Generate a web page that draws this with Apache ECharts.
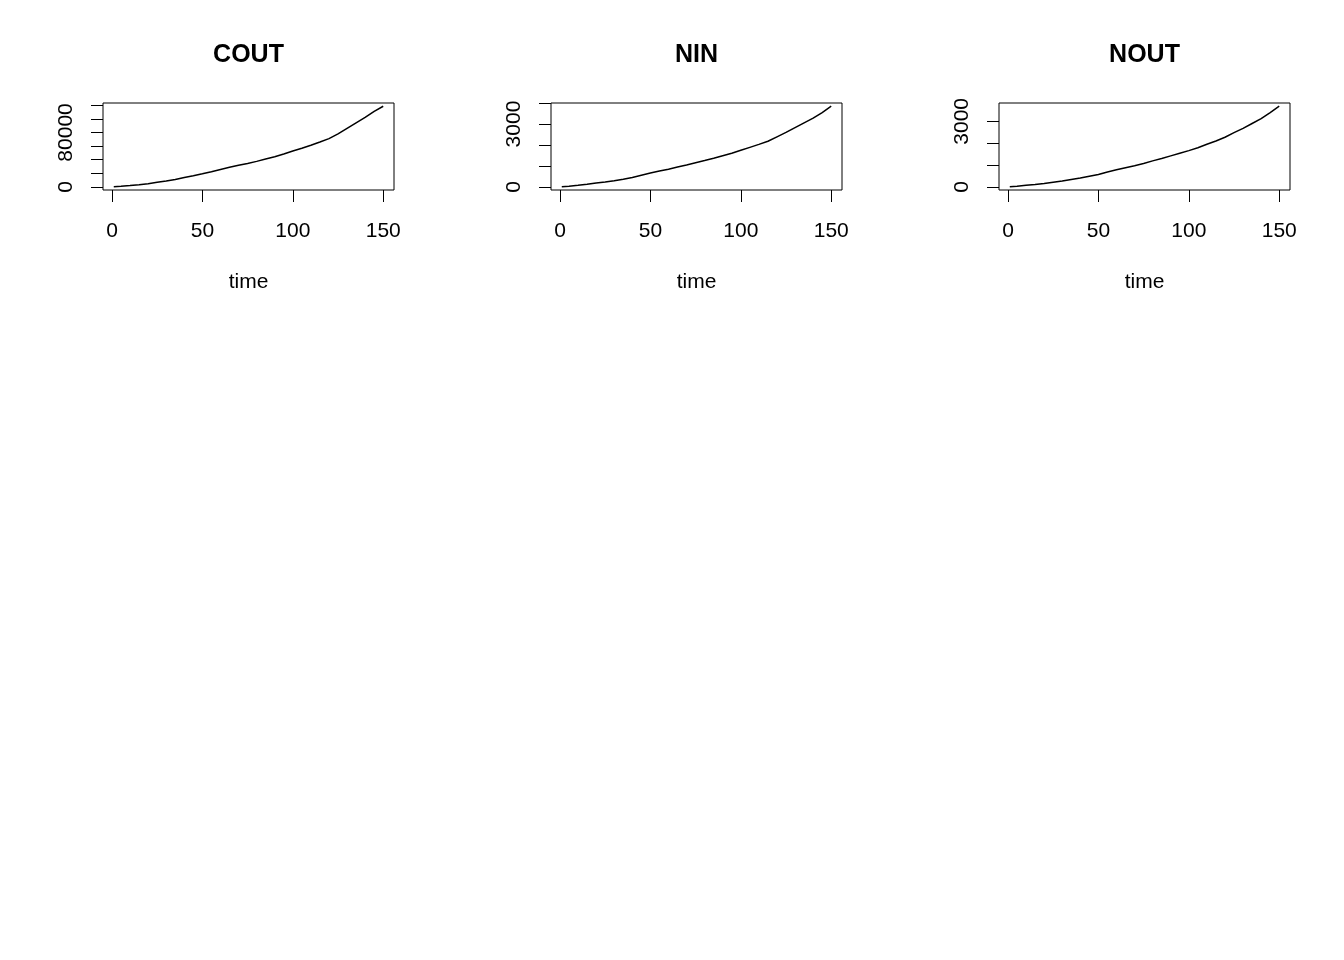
<!DOCTYPE html>
<html>
<head>
<meta charset="utf-8">
<script src="https://cdn.jsdelivr.net/npm/echarts@6/dist/echarts.min.js"></script>
<style>
html,body{margin:0;padding:0;background:#fff;}
#chart{width:1344px;height:960px;}
</style>
</head>
<body>
<div id="chart"></div>
<script>
// ---- data ----
const titles = ["COUT", "NIN", "NOUT"];
const time = [1,5,10,15,20,25,30,35,40,45,50,55,60,65,70,75,80,85,90,95,100,105,110,115,120,125,130,135,140,145,150];
const cout = [300,1000,2000,3200,4800,6800,8800,11000,14000,16500,19300,22300,25700,28800,31800,34600,37600,41000,44400,48400,52800,56800,61200,66000,71000,78000,86000,94000,102000,111000,118500];
const nin = [10,40,80,130,185,240,300,370,450,560,670,760,850,950,1050,1155,1260,1370,1490,1610,1750,1890,2030,2180,2390,2600,2830,3060,3280,3550,3850];
const nout = [5,30,70,110,160,215,270,340,410,490,570,680,780,880,970,1070,1190,1300,1420,1540,1660,1790,1950,2100,2270,2480,2680,2900,3120,3400,3690];
const xTicks = [0, 50, 100, 150];
const xTickLabels = [0, 50, 100, 150];
const yTicks = [
  [0,20000,40000,60000,80000,100000,120000],
  [0,1000,2000,3000,4000],
  [0,1000,2000,3000]
];
const yTickLabels = [[0, 80000], [0, 3000], [0, 3000]];
const seriesData = [cout, nin, nout];

// ---- layout ----
const FONT = "Liberation Sans, Arial, sans-serif";
const gridLefts = [103, 551, 999];
const gridW = 291, gridTop = 103, gridH = 87;

function rRange(arr){
  const mn = Math.min(...arr), mx = Math.max(...arr);
  const d = (mx - mn) * 0.04;
  return [mn - d, mx + d];
}
const xr = rRange(time);
const plain = v => String(v);

const option = {
  backgroundColor: '#fff',
  animation: false,
  title: [], grid: [], xAxis: [], yAxis: [], series: []
};

for (let i = 0; i < 3; i++) {
  const yr = rRange(seriesData[i]);
  option.title.push({
    text: titles[i],
    left: gridLefts[i] + gridW / 2,
    textAlign: 'center',
    top: 43,
    padding: 0,
    textStyle: {fontFamily: FONT, fontSize: 25, fontWeight: 'bold', color: '#000'}
  });
  option.grid.push({
    left: gridLefts[i], top: gridTop, width: gridW, height: gridH,
    show: true, borderColor: '#000', borderWidth: 1, backgroundColor: 'transparent'
  });
  option.xAxis.push({
    type: 'value', gridIndex: i, min: xr[0], max: xr[1],
    position: 'bottom',
    name: 'time', nameLocation: 'middle', nameGap: 82,
    nameTextStyle: {fontFamily: FONT, fontSize: 21, color: '#000'},
    axisLine: {show: false, onZero: false},
    splitLine: {show: false},
    axisTick: {show: true, inside: false, length: 12, customValues: xTicks, lineStyle: {color: '#000', width: 1}},
    axisLabel: {customValues: xTickLabels, formatter: plain, margin: 31, fontFamily: FONT, fontSize: 21, color: '#000'}
  });
  option.yAxis.push({
    type: 'value', gridIndex: i, min: yr[0], max: yr[1],
    position: 'left',
    axisLine: {show: false, onZero: false},
    splitLine: {show: false},
    axisTick: {show: true, inside: false, length: 12, customValues: yTicks[i], lineStyle: {color: '#000', width: 1}},
    axisLabel: {customValues: yTickLabels[i], formatter: plain, rotate: 90, margin: 26, fontFamily: FONT, fontSize: 21, color: '#000'}
  });
  option.series.push({
    type: 'line', xAxisIndex: i, yAxisIndex: i,
    data: time.map((t, k) => [t, seriesData[i][k]]),
    showSymbol: false, symbol: 'none',
    lineStyle: {color: '#000', width: 1.5},
    silent: true
  });
}

const chart = echarts.init(document.getElementById('chart'), null, {renderer: 'canvas'});
chart.setOption(option);
</script>
</body>
</html>
